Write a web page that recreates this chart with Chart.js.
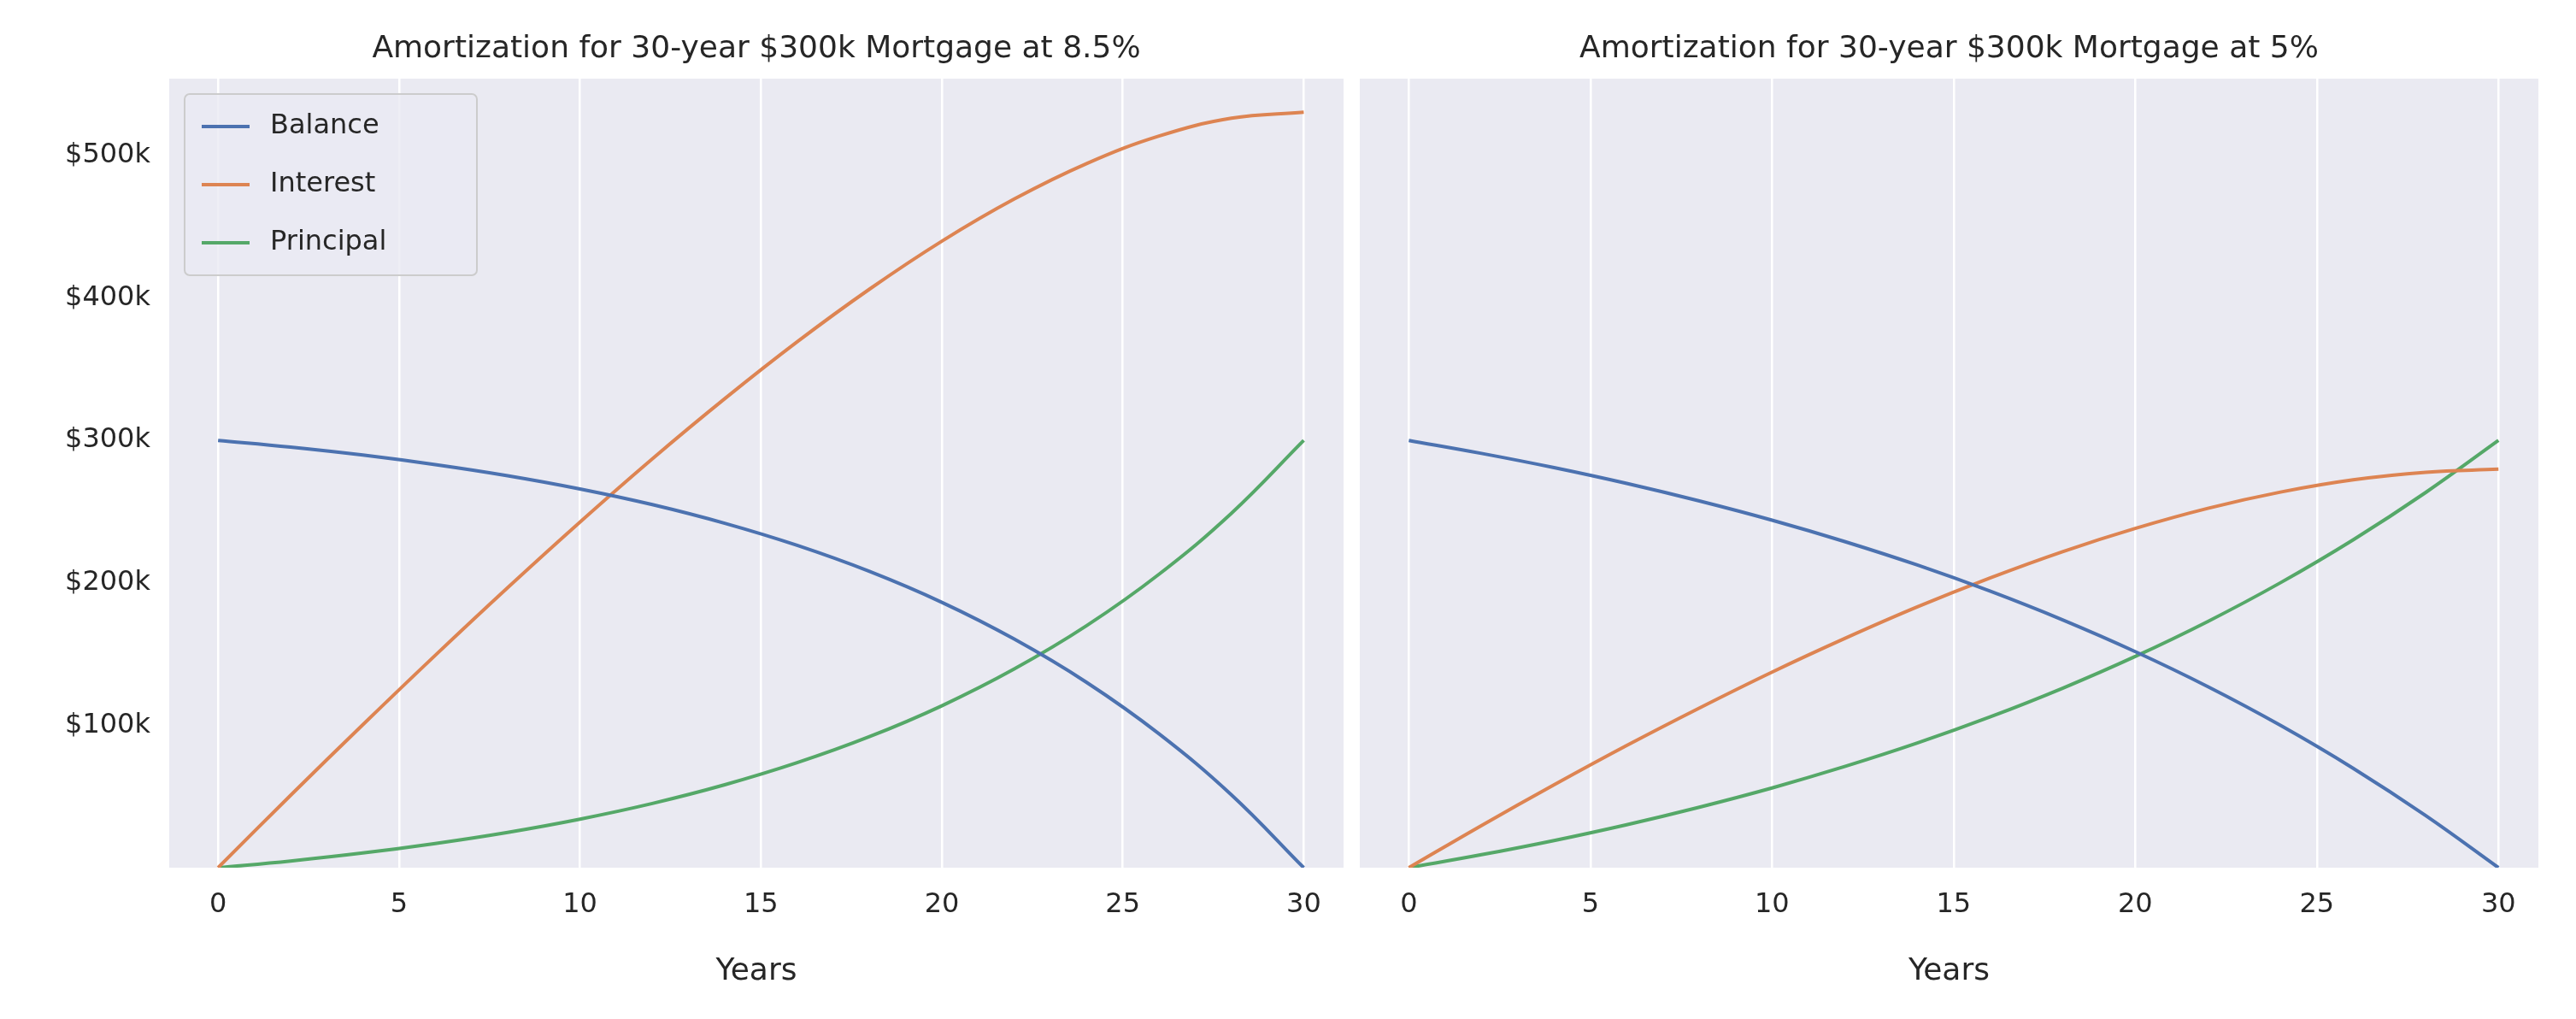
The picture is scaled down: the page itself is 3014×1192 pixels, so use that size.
<!DOCTYPE html>
<html>
<head>
<meta charset="utf-8">
<script src="https://cdn.jsdelivr.net/npm/chart.js@4"></script>
<style>
  body { margin: 0; background: #fff; width: 3014px; height: 1192px; position: relative; overflow: hidden; }
  .box { position: absolute; top: 0; height: 1192px; }
</style>
</head>
<body>
<div class="box" style="left:0;width:1582px"><canvas id="left"></canvas></div>
<div class="box" style="left:1582px;width:1432px"><canvas id="right"></canvas></div>
<script>
// years (read every 2 years)
const years = [0, 2, 4, 6, 8, 10, 12, 14, 16, 18, 20, 22, 24, 26, 28, 30];

// 8.5% mortgage, values in $k
const balanceHi = [300, 295.3, 289.7, 283.0, 275.2, 265.9, 254.9, 241.8, 226.3, 208.0, 186.3, 160.5, 130.1, 94.0, 51.2, 0];
const interestHi = [0, 50.7, 100.4, 149.1, 196.6, 242.7, 287.1, 329.3, 369.2, 406.2, 439.9, 469.5, 494.4, 513.7, 526.2, 530.4];
const principalHi = [0, 4.7, 10.3, 17.0, 24.8, 34.1, 45.1, 58.2, 73.7, 92.0, 113.7, 139.5, 169.9, 206.0, 248.8, 300];

// 5% mortgage, values in $k
const balanceLo = [300, 290.9, 280.9, 269.8, 257.5, 244.0, 229.0, 212.5, 194.2, 174.0, 151.7, 127.1, 99.9, 69.8, 36.5, 0];
const interestLo = [0, 29.6, 58.2, 85.8, 112.1, 137.3, 160.9, 183.1, 203.4, 221.9, 238.2, 252.3, 263.7, 272.3, 277.6, 279.8];
const principalLo = [0, 9.1, 19.1, 30.2, 42.5, 56.0, 71.0, 87.5, 105.8, 126.0, 148.3, 172.9, 200.1, 230.2, 263.5, 300];

const xTicks = [0, 5, 10, 15, 20, 25, 30];
const yTicks = [100, 200, 300, 400, 500];
const seriesNames = ['Balance', 'Interest', 'Principal'];
const colors = ['#4c72b0', '#dd8452', '#55a868'];
const FONT = '"DejaVu Sans", sans-serif';

function pts(vals) { return years.map((y, i) => ({ x: y, y: vals[i] })); }

// background + title + legend drawn inside the plot
const decor = {
  id: 'decor',
  beforeDraw(chart) {
    const a = chart.chartArea, c = chart.ctx;
    c.save();
    c.fillStyle = '#eaeaf2';
    c.fillRect(a.left, a.top, a.right - a.left, a.bottom - a.top);
    c.restore();
  },
  afterDraw(chart, args, opts) {
    const a = chart.chartArea, c = chart.ctx;
    c.save();
    c.fillStyle = '#262626';
    c.font = '36px ' + FONT;
    c.textAlign = 'center';
    c.textBaseline = 'middle';
    c.fillText(opts.title, (a.left + a.right) / 2, 58);
    if (opts.legend) {
      const x = a.left + 18, y = a.top + 18, w = 342, h = 212;
      c.fillStyle = 'rgba(234,234,242,0.8)';
      c.strokeStyle = '#cccccc';
      c.lineWidth = 2;
      c.beginPath();
      c.roundRect(x, y, w, h, 6);
      c.fill(); c.stroke();
      c.font = '32px ' + FONT;
      c.textAlign = 'left';
      seriesNames.forEach((n, i) => {
        const ly = y + 38 + i * 68;
        c.strokeStyle = colors[i];
        c.lineWidth = 4;
        c.beginPath(); c.moveTo(x + 20, ly); c.lineTo(x + 76, ly); c.stroke();
        c.fillStyle = '#262626';
        c.fillText(n, x + 100, ly);
      });
    }
    c.restore();
  }
};

function makeChart(id, data, opts) {
  new Chart(document.getElementById(id), {
    type: 'line',
    data: {
      datasets: data.map((d, i) => ({
        label: seriesNames[i],
        data: pts(d),
        borderColor: colors[i],
        borderWidth: 4,
        pointRadius: 0,
        tension: 0.4,
        fill: false
      }))
    },
    options: {
      responsive: true,
      maintainAspectRatio: false,
      animation: false,
      layout: { padding: { top: 92, right: opts.padRight, left: 0, bottom: 30 } },
      plugins: {
        legend: { display: false },
        tooltip: { enabled: false },
        decor: { title: opts.title, legend: opts.legend }
      },
      scales: {
        x: {
          type: 'linear', min: -1.35, max: 31.1,
          afterBuildTicks: ax => { ax.ticks = xTicks.map(v => ({ value: v })); },
          afterFit: ax => { ax.height = 147; },
          grid: { color: '#ffffff', lineWidth: 2.5, drawTicks: false },
          border: { display: false },
          ticks: { color: '#262626', font: { size: 32, family: FONT }, padding: 24 },
          title: { display: true, text: 'Years', color: '#262626', font: { size: 36, family: FONT }, padding: { top: 4 } }
        },
        y: {
          min: 0, max: 554,
          afterBuildTicks: ax => { ax.ticks = yTicks.map(v => ({ value: v })); },
          afterFit: ax => { ax.width = opts.yWidth; },
          grid: { display: false, drawTicks: false },
          border: { display: false },
          ticks: {
            display: opts.yLabels,
            color: '#262626', font: { size: 32, family: FONT }, padding: 22,
            callback: v => '$' + v + 'k'
          }
        }
      }
    },
    plugins: [decor]
  });
}

makeChart('left', [balanceHi, interestHi, principalHi],
  { title: 'Amortization for 30-year $300k Mortgage at 8.5%', legend: true, yLabels: true, yWidth: 198, padRight: 10 });
makeChart('right', [balanceLo, interestLo, principalLo],
  { title: 'Amortization for 30-year $300k Mortgage at 5%', legend: false, yLabels: false, yWidth: 9, padRight: 44 });
</script>
</body>
</html>
